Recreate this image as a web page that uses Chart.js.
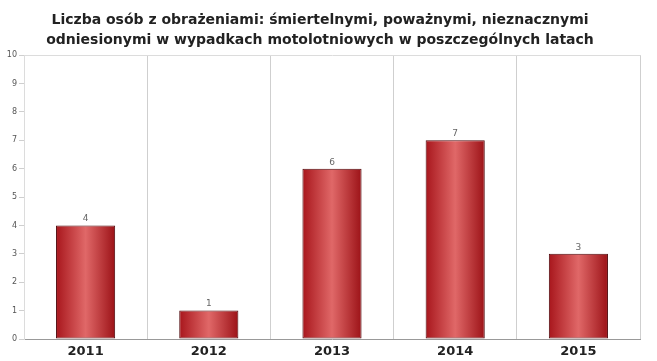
<!DOCTYPE html>
<html>
<head>
<meta charset="utf-8">
<script src="https://cdn.jsdelivr.net/npm/chart.js@4/dist/chart.umd.min.js"></script>
<style>
  html, body { margin: 0; padding: 0; background: #fff; }
  #wrap { width: 657px; height: 361px; }
</style>
</head>
<body>
<div id="wrap"><canvas id="myChart"></canvas></div>
<script>
"use strict";

const years = ['2011', '2012', '2013', '2014', '2015'];
const injured = [4, 1, 6, 7, 3];
const yTicks = [0, 1, 2, 3, 4, 5, 6, 7, 8, 9, 10];
const titleLines = [
    'Liczba osób z obrażeniami: śmiertelnymi, poważnymi, nieznacznymi',
    'odniesionymi w wypadkach motolotniowych w poszczególnych latach'
];

const barRatio = 0.48;

// poziomy gradient dla kazdego slupka
function barGradient (context) {
    const chart = context.chart;
    const x = chart.scales.x;
    if (!chart.chartArea || !x) return '#c0282d';
    const center = x.getPixelForValue(context.dataIndex);
    const half = (x.width / years.length) * barRatio / 2;
    const g = chart.ctx.createLinearGradient(center - half, 0, center + half, 0);
    g.addColorStop(0, '#a8161c');
    g.addColorStop(0.5, '#e06868');
    g.addColorStop(1, '#9c1217');
    return g;
}

// wartosci nad slupkami
const valueLabels = {
    id: 'valueLabels',
    afterDatasetsDraw (chart) {
        const c = chart.ctx;
        const meta = chart.getDatasetMeta(0);
        c.save();
        c.font = '9px "DejaVu Sans"';
        c.fillStyle = '#666';
        c.textAlign = 'center';
        c.textBaseline = 'bottom';
        meta.data.forEach((bar, i) => {
            c.fillText(injured[i], bar.x, bar.y - 2);
        });
        c.restore();
    }
};

const ctx = document.getElementById('myChart');

new Chart(ctx, {
    type: 'bar',
    data: {
        labels: years,
        datasets: [{
            label: 'Liczba osób',
            data: injured,
            backgroundColor: barGradient,
            borderColor: '#4e080b',
            borderWidth: 1,
            borderSkipped: false,
            categoryPercentage: 1,
            barPercentage: barRatio
        }]
    },
    options: {
        responsive: true,
        maintainAspectRatio: false,
        animation: false,
        layout: { padding: { left: 0, right: 17, top: 0, bottom: 0 } },
        plugins: {
            legend: { display: false },
            tooltip: { enabled: false },
            title: {
                display: true,
                text: titleLines,
                color: '#222',
                font: { family: '"DejaVu Sans"', size: 14, weight: 'bold', lineHeight: 1.4 },
                padding: { top: 11, bottom: 5 }
            }
        },
        scales: {
            x: {
                grid: { color: '#cfcfcf', offset: true, drawTicks: false },
                border: { color: '#999' },
                ticks: {
                    color: '#222',
                    padding: 5,
                    font: { family: '"DejaVu Sans"', size: 13, weight: 'bold' }
                },
                afterFit (scale) { scale.height = 22; }
            },
            y: {
                min: 0,
                max: 10,
                afterBuildTicks (scale) { scale.ticks = yTicks.map(v => ({ value: v })); },
                grid: {
                    color: c => c.tick && c.tick.value === 10 ? '#dcdcdc' : 'rgba(0,0,0,0)',
                    tickColor: '#cfcfcf',
                    tickLength: 5
                },
                border: { color: '#dcdcdc' },
                ticks: {
                    color: '#555',
                    padding: 2,
                    font: { family: '"DejaVu Sans"', size: 8 }
                },
                afterFit (scale) { scale.width = 24; }
            }
        }
    },
    plugins: [valueLabels]
});
</script>
</body>
</html>
